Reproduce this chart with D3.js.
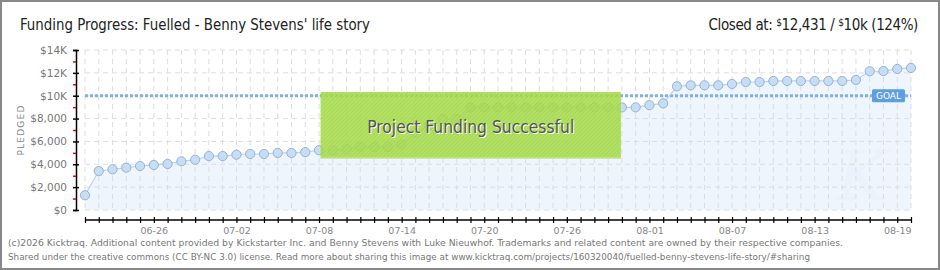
<!DOCTYPE html>
<html>
<head>
<meta charset="utf-8">
<script src="https://cdn.jsdelivr.net/npm/d3@7"></script>
<style>
  body { margin: 0; background: #fff; }
  svg { display: block; }
</style>
</head>
<body>
<div id="chart"></div>
<script>
const startDay = '2016-06-21'
const pledged = [1290, 3410, 3560, 3700, 3850, 3940, 4030, 4260, 4400, 4720,
  4720, 4840, 4900, 4900, 4990, 4990, 5060, 5230, 5220, 5320,
  5540, 5510, 5510, 5750, 6770, 7400, 7960, 7960, 8980, 8980,
  8980, 8980, 8980, 8980, 8980, 8980, 8980, 8980, 8980, 8980,
  8980, 9170, 9330, 10820, 10910, 10910, 10910, 11030, 11200, 11200,
  11290, 11290, 11290, 11290, 11290, 11290, 11380, 12140, 12160, 12340,
  12431]
const xTickLabels = ['06-26', '07-02', '07-08', '07-14', '07-20', '07-26', '08-01', '08-07', '08-13', '08-19']
const yTickValues = [0, 2000, 4000, 6000, 8000, 10000, 12000, 14000]
const yTickLabels = ['$0', '$2,000', '$4,000', '$6,000', '$8,000', '$10K', '$12K', '$14K']
const goal = 10000
const titleText = "Funding Progress: Fuelled - Benny Stevens' life story"
const footerLines = [
  '(c)2026 Kicktraq. Additional content provided by Kickstarter Inc. and Benny Stevens with Luke Nieuwhof. Trademarks and related content are owned by their respective companies.',
  'Shared under the creative commons (CC BY-NC 3.0) license. Read more about sharing this image at www.kicktraq.com/projects/160320040/fuelled-benny-stevens-life-story/#sharing'
]

const W = 940
const H = 270
const headFont = 'DejaVu Sans Condensed'
const parse = d3.utcParse('%Y-%m-%d')
const fmt = d3.utcFormat('%m-%d')
const day0 = parse(startDay)
const days = pledged.map((_, i) => d3.utcDay.offset(day0, i))
const data = pledged.map((v, i) => ({ date: days[i], value: v }))

const svg = d3.select('#chart').append('svg')
  .attr('width', W)
  .attr('height', H)

// frame
svg.append('rect')
  .attr('x', 1).attr('y', 1)
  .attr('width', W - 2).attr('height', H - 2)
  .attr('fill', '#fff')
  .attr('stroke', '#888')
  .attr('stroke-width', 2)

const x = d3.scaleUtc()
  .domain([days[0], days[days.length - 1]])
  .range([85, 911])
const y = d3.scaleLinear()
  .domain([0, 14000])
  .range([210, 50])

const defs = svg.append('defs')
const hatch = defs.append('pattern')
  .attr('id', 'hatch')
  .attr('patternUnits', 'userSpaceOnUse')
  .attr('width', 4).attr('height', 4)
hatch.append('rect').attr('width', 4).attr('height', 4).attr('fill', '#a8dc4c')
hatch.append('path').attr('d', 'M-1,1 l2,-2 M0,4 l4,-4 M3,5 l2,-2')
  .attr('stroke', '#9fd244').attr('stroke-width', 1)

// area under line
svg.append('path')
  .datum(data)
  .attr('fill', '#eef5fd')
  .attr('d', d3.area().x(d => x(d.date)).y0(y(0)).y1(d => y(d.value)))

// watermark
svg.append('text')
  .attr('x', 862).attr('y', 200)
  .attr('text-anchor', 'middle')
  .attr('font-family', 'DejaVu Serif')
  .attr('font-style', 'italic')
  .attr('font-size', 70)
  .attr('fill', '#eaf2fb')
  .text('K')

// grid
const grid = svg.append('g')
grid.selectAll('.vg').data(days).enter().append('line')
  .attr('x1', d => x(d)).attr('x2', d => x(d))
  .attr('y1', y(14000)).attr('y2', y(0))
  .attr('stroke', '#ddd').attr('stroke-dasharray', '5,4')
grid.selectAll('.hg').data(yTickValues).enter().append('line')
  .attr('x1', x(days[0])).attr('x2', x(days[days.length - 1]))
  .attr('y1', d => y(d)).attr('y2', d => y(d))
  .attr('stroke', '#ddd').attr('stroke-dasharray', '5,4')

// goal line
svg.append('line')
  .attr('x1', x(days[0])).attr('x2', x(days[days.length - 1]))
  .attr('y1', y(goal)).attr('y2', y(goal))
  .attr('stroke', '#7fb1e6').attr('stroke-width', 3)
  .attr('stroke-dasharray', '3,2')

// line + points
svg.append('path')
  .datum(data)
  .attr('fill', 'none')
  .attr('stroke', '#b7d3f1')
  .attr('stroke-width', 1.2)
  .attr('d', d3.line().x(d => x(d.date)).y(d => y(d.value)))
svg.selectAll('.pt').data(data).enter().append('circle')
  .attr('cx', d => x(d.date))
  .attr('cy', d => y(d.value))
  .attr('r', 4.6)
  .attr('fill', '#c6ddf6')
  .attr('stroke', '#97b2d2')
  .attr('stroke-width', 1)

// goal label
svg.append('rect')
  .attr('x', x(days[days.length - 1]) - 39).attr('y', y(goal) - 6.5)
  .attr('width', 33).attr('height', 13).attr('rx', 1.5)
  .attr('fill', '#5f9edf')
svg.append('text')
  .attr('x', x(days[days.length - 1]) - 22.5).attr('y', y(goal) + 3.5)
  .attr('text-anchor', 'middle')
  .attr('font-family', 'DejaVu Sans')
  .attr('font-size', 9)
  .attr('fill', '#fff')
  .text('GOAL')

// success box
const bx0 = x(days[17]) + 1.5
const bx1 = x(days[39]) - 1
svg.append('rect')
  .attr('x', bx0).attr('y', y(10330))
  .attr('width', bx1 - bx0).attr('height', y(4530) - y(10330))
  .attr('fill', 'url(#hatch)')
  .attr('opacity', 0.88)
svg.append('line')
  .attr('x1', bx0).attr('x2', bx1)
  .attr('y1', y(4530)).attr('y2', y(4530))
  .attr('stroke', '#cfe6a8').attr('stroke-width', 1.5)
const bmx = (bx0 + bx1) / 2
svg.append('text')
  .attr('x', bmx + 1).attr('y', 134)
  .attr('text-anchor', 'middle')
  .attr('font-family', headFont)
  .attr('font-size', 18)
  .attr('textLength', 207).attr('lengthAdjust', 'spacingAndGlyphs')
  .attr('fill', '#fff')
  .text('Project Funding Successful')
svg.append('text')
  .attr('x', bmx).attr('y', 133)
  .attr('text-anchor', 'middle')
  .attr('font-family', headFont)
  .attr('font-size', 18)
  .attr('textLength', 207).attr('lengthAdjust', 'spacingAndGlyphs')
  .attr('fill', '#555')
  .text('Project Funding Successful')

// y axis
const yAxis = svg.append('g')
  .attr('transform', 'translate(76,0)')
  .call(d3.axisLeft(y).tickValues(yTickValues).tickSize(3).tickPadding(6)
    .tickFormat((d, i) => yTickLabels[i]))
yAxis.select('.domain').attr('stroke', '#000').attr('stroke-width', 1.5)
yAxis.selectAll('.tick line').attr('x1', -3).attr('x2', 3).attr('stroke', '#000').attr('stroke-width', 1.5)
yAxis.selectAll('.tick text')
  .attr('font-family', 'DejaVu Sans')
  .attr('font-size', 10.5)
  .attr('fill', '#777')
const yMinor = svg.append('g')
  .attr('transform', 'translate(76,0)')
  .call(d3.axisLeft(y).tickValues(d3.range(1000, 14000, 2000)).tickSize(3).tickFormat(''))
yMinor.select('.domain').remove()
yMinor.selectAll('.tick line').attr('stroke', '#e00').attr('stroke-width', 1.5)

svg.append('text')
  .attr('transform', 'translate(24,130) rotate(-90)')
  .attr('text-anchor', 'middle')
  .attr('font-family', 'DejaVu Sans')
  .attr('font-size', 9)
  .attr('letter-spacing', 1.2)
  .attr('fill', '#888')
  .text('PLEDGED')

// x axis
const xAxis = svg.append('g')
  .attr('transform', 'translate(0,220)')
  .call(d3.axisBottom(x).tickValues(days).tickSize(3).tickPadding(4)
    .tickFormat(d => xTickLabels.includes(fmt(d)) ? fmt(d) : ''))
xAxis.select('.domain').attr('stroke', '#000').attr('stroke-width', 1.5)
  .attr('d', `M${x(days[0])},0H${x(days[days.length - 1])}`)
xAxis.selectAll('.tick line').attr('y1', -3).attr('y2', 3).attr('stroke', '#000').attr('stroke-width', 1.2)
xAxis.selectAll('.tick text')
  .attr('font-family', 'DejaVu Sans')
  .attr('font-size', 9.5)
  .attr('fill', '#888')

// header
svg.append('text')
  .attr('x', 20).attr('y', 30)
  .attr('font-family', headFont)
  .attr('font-size', 16)
  .attr('textLength', 350).attr('lengthAdjust', 'spacingAndGlyphs')
  .attr('fill', '#222')
  .text(titleText)

const closed = svg.append('text')
  .attr('x', 918).attr('y', 30)
  .attr('text-anchor', 'end')
  .attr('font-family', headFont)
  .attr('font-size', 15)
  .attr('letter-spacing', -0.4)
  .attr('fill', '#222')
closed.append('tspan').text('Closed at:  ')
closed.append('tspan').attr('font-size', 10).attr('dy', -4).text('$')
closed.append('tspan').attr('dy', 4).text(d3.format(',')(pledged[pledged.length - 1]) + ' /  ')
closed.append('tspan').attr('font-size', 10).attr('dy', -4).text('$')
closed.append('tspan').attr('dy', 4)
  .text(`${goal / 1000}k (${Math.round(pledged[pledged.length - 1] / goal * 100)}%)`)

// footer
svg.selectAll('.foot').data(footerLines).enter().append('text')
  .attr('x', 8)
  .attr('y', (_, i) => 246 + i * 14)
  .attr('font-family', 'DejaVu Sans Condensed')
  .attr('font-size', 9.5)
  .attr('textLength', (_, i) => i === 0 ? 835 : 802)
  .attr('lengthAdjust', 'spacingAndGlyphs')
  .attr('fill', '#777')
  .text(d => d)
</script>
</body>
</html>
